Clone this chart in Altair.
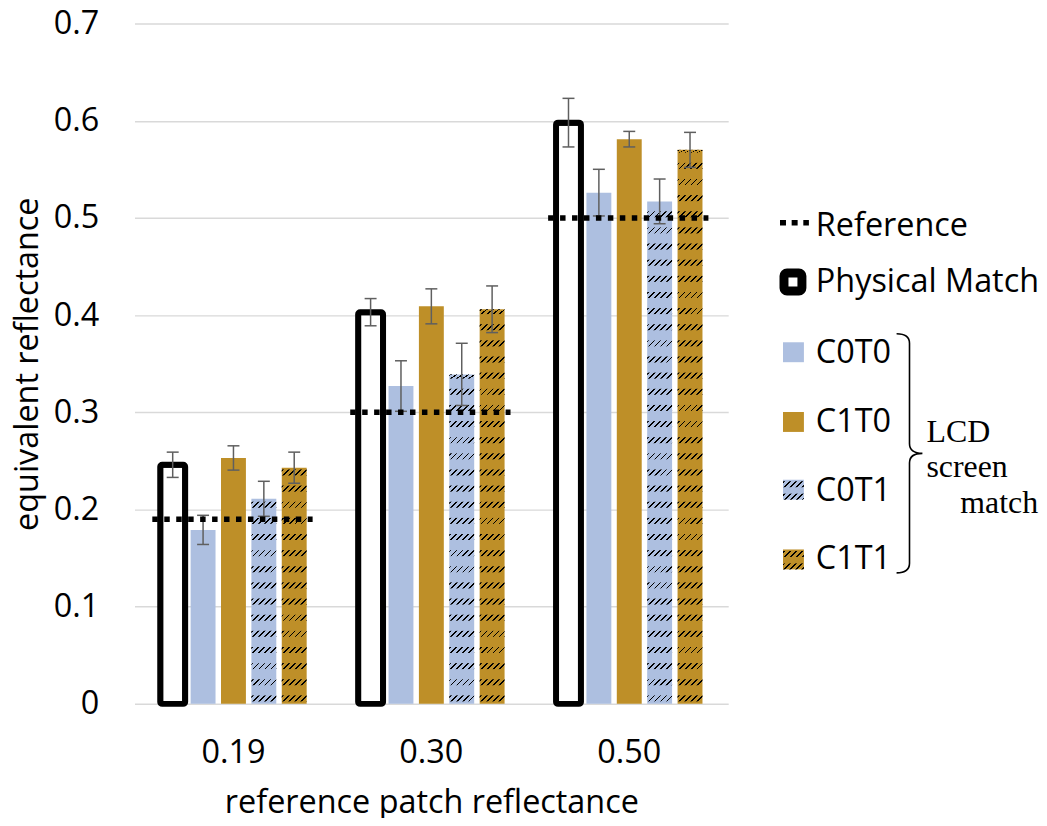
import altair as alt
import pandas as pd

# ---------------- data ----------------
groups = ["0.19", "0.30", "0.50"]
series = ["Physical Match", "C0T0", "C1T0", "C0T1", "C1T1"]
reference = [0.19, 0.30, 0.50]

physical = [0.246, 0.403, 0.598]
physical_err = [0.013, 0.014, 0.025]
c0t0 = [0.179, 0.327, 0.526]
c0t0_err = [0.015, 0.026, 0.024]
c1t0 = [0.253, 0.409, 0.581]
c1t0_err = [0.0125, 0.018, 0.008]
c0t1 = [0.211, 0.339, 0.517]
c0t1_err = [0.018, 0.032, 0.023]
c1t1 = [0.243, 0.406, 0.570]
c1t1_err = [0.016, 0.024, 0.018]

legend_labels = ["Reference", "Physical Match", "C0T0", "C1T0", "C0T1", "C1T1"]
bracket_lines = ["LCD", "screen", "match"]
hatched_series = ["C0T1", "C1T1"]

# ---------------- layout / style ----------------
PLOT_W, PLOT_H = 596, 683
YMAX = 0.7
BLUE = "#ADBFE0"
GOLD = "#BE8F28"
ERR = "#5F5F5F"
FONT = "Open Sans"
FS = 32.5
CLEAR = "rgba(0,0,0,0)"
# hatch style (pixels): rows of short '/' dashes
ROW_PERIOD, ROW_OFF, ROW_H = 16.2, 2.5, 6.0

vals = {"Physical Match": (physical, physical_err), "C0T0": (c0t0, c0t0_err),
        "C1T0": (c1t0, c1t0_err), "C0T1": (c0t1, c0t1_err), "C1T1": (c1t1, c1t1_err)}
rows = []
for gi, g in enumerate(groups):
    for s in series:
        v, e = vals[s]
        rows.append({"group": g, "series": s, "value": v[gi],
                     "lo": v[gi] - e[gi], "hi": v[gi] + e[gi]})
df = pd.DataFrame(rows)
ref_df = pd.DataFrame({"group": groups, "reference": reference})

# band geometry (used only to size hatch patterns)
PI, PO = 0.18, 0.847
step = (PLOT_W / 3) / (5 - PI + 2 * PO)
BAR_W = step * (1 - PI)


def diag_lines(w, h, gid, period=6.0, line=1.8):
    """Black '/' lines on transparent, 45 degrees in screen space for a w x h box."""
    L = w + h
    lam = L / (w * w + h * h)
    stops = [{"offset": 0, "color": CLEAR}]
    pos = 0.6
    while pos < L:
        a = pos / L
        b = min((pos + line) / L, 1.0)
        stops += [{"offset": a, "color": CLEAR}, {"offset": a, "color": "#000000"},
                  {"offset": b, "color": "#000000"}, {"offset": b, "color": CLEAR}]
        pos += period
    stops.append({"offset": 1, "color": CLEAR})
    return {"gradient": "linear", "id": gid, "x1": 0, "y1": 0,
            "x2": lam * w, "y2": lam * h, "stops": stops}


# ---------------- encodings ----------------
x_scale = alt.Scale(domain=groups, paddingInner=0, paddingOuter=0)
x_axis = alt.Axis(labelAngle=0, labelFont=FONT, labelFontSize=FS, labelColor="#000",
                  labelPadding=33, ticks=False, domain=False, grid=False,
                  titleFont=FONT, titleFontSize=FS, titleFontWeight="normal",
                  titleColor="#000", titlePadding=18)
X = alt.X("group:N", scale=x_scale, axis=x_axis, title="reference patch reflectance")
XO = alt.XOffset("series:N", scale=alt.Scale(domain=series, paddingInner=PI, paddingOuter=PO))
y_scale = alt.Scale(domain=[0, YMAX], nice=False, zero=True)
y_axis = alt.Axis(values=[0, 0.1, 0.2, 0.3, 0.4, 0.5, 0.6, 0.7],
                  labelExpr="datum.value == 0 ? '0' : format(datum.value, '.1f')",
                  labelFont=FONT, labelFontSize=FS, labelColor="#000", labelPadding=36,
                  ticks=False, domain=False, grid=True, gridColor="#D9D9D9", gridWidth=1.5,
                  titleFont=FONT, titleFontSize=FS, titleFontWeight="normal",
                  titleColor="#000", titlePadding=9)
YT = "equivalent reflectance"


def Y(field):
    return alt.Y(field, scale=y_scale, axis=y_axis, title=YT)


base = alt.Chart(df)

bars = base.mark_bar().encode(
    x=X, xOffset=XO, y=Y("value:Q"),
    fill=alt.Fill("series:N", scale=alt.Scale(domain=series,
                  range=["#FFFFFF", BLUE, GOLD, BLUE, GOLD]), legend=None),
).transform_filter(alt.datum.series != "Physical Match")

phys = base.mark_bar(fill="#FFFFFF", stroke="#000000", strokeWidth=6,
                     cornerRadius=2).encode(
    x=X, xOffset=XO, y=Y("value:Q")
).transform_filter(alt.datum.series == "Physical Match")

# hatch: rows of diagonal dashes laid over the hatched bars (a pattern, derived
# from each bar's own value through the y scale's units)
u = YMAX / PLOT_H  # data units per pixel
hatch = base.transform_filter(
    alt.FieldOneOfPredicate(field="series", oneOf=hatched_series)
).transform_calculate(
    k="sequence(0, 60)"
).transform_flatten(["k"]).transform_calculate(
    r0=f"({ROW_OFF} + datum.k * {ROW_PERIOD}) * {u}",
).transform_calculate(
    r1=f"min(datum.r0 + {ROW_H} * {u}, datum.value)"
).transform_filter("datum.r0 < datum.value - 1.5 * " + str(u)).mark_bar(
    fill=diag_lines(BAR_W, ROW_H, "hatchrow")
).encode(x=X, xOffset=XO, y=Y("r0:Q"), y2="r1:Q")

err_rule = base.mark_rule(color=ERR, strokeWidth=1.5).encode(
    x=X, xOffset=XO, y=Y("lo:Q"), y2="hi:Q")
cap_shape = "M-1,0L1,0"
cap_lo = base.mark_point(shape=cap_shape, size=144, filled=False, color=ERR,
                         strokeWidth=1.5, opacity=1).encode(x=X, xOffset=XO, y=Y("lo:Q"))
cap_hi = base.mark_point(shape=cap_shape, size=144, filled=False, color=ERR,
                         strokeWidth=1.5, opacity=1).encode(x=X, xOffset=XO, y=Y("hi:Q"))

ref_line = alt.Chart(ref_df).mark_rule(color="#000000", strokeWidth=5.5,
                                       strokeDash=[5.5, 6.5]).encode(
    x=alt.X("group:N", scale=x_scale, axis=x_axis, title="reference patch reflectance",
            bandPosition=0.09),
    x2=alt.X2("group", bandPosition=0.9),
    y=Y("reference:Q"),
)

# ---------------- legend (drawn beside the plot) ----------------
one = pd.DataFrame({"k": [0]})
leg = []
TX = 684
text_y = [213, 270, 341, 410, 479, 548]
for lbl, ty in zip(legend_labels, text_y):
    leg.append(alt.Chart(one).mark_text(text=lbl, align="left", baseline="alphabetic",
                                        font=FONT, fontSize=FS, color="#000").encode(
        x=alt.value(TX), y=alt.value(ty)))

leg.append(alt.Chart(one).mark_rule(color="#000", strokeWidth=5.5, strokeDash=[6, 5.7]).encode(
    x=alt.value(648), x2=alt.value(677), y=alt.value(200)))
leg.append(alt.Chart(one).mark_rect(fill="#FFFFFF", stroke="#000", strokeWidth=9,
                                    cornerRadius=3).encode(
    x=alt.value(652), x2=alt.value(670), y=alt.value(250.5), y2=alt.value(268.5)))
sq = {"C0T0": (320, BLUE, False), "C1T0": (390, GOLD, False),
      "C0T1": (458, BLUE, True), "C1T1": (528, GOLD, True)}
leg_grad = diag_lines(21, 6, "hatchleg")
for s in ["C0T0", "C1T0", "C0T1", "C1T1"]:
    y0, col, hatched = sq[s]
    leg.append(alt.Chart(one).mark_rect(fill=col).encode(
        x=alt.value(651), x2=alt.value(672), y=alt.value(y0), y2=alt.value(y0 + 20)))
    if hatched:
        for r0 in (1.5, 14):
            leg.append(alt.Chart(one).mark_rect(fill=leg_grad).encode(
                x=alt.value(651), x2=alt.value(672),
                y=alt.value(y0 + r0), y2=alt.value(y0 + r0 + 6)))

brace_path = ("M-0.108,-1 Q0,-1 0,-0.92 L0,-0.08 Q0,0 0.108,0 "
              "Q0,0 0,0.08 L0,0.92 Q0,1 -0.108,1")
leg.append(alt.Chart(one).mark_point(shape=brace_path, size=57600, filled=False,
                                     color="#000", strokeWidth=1.6, opacity=1).encode(
    x=alt.value(778), y=alt.value(431.5)))
for txt, (bx, by) in zip(bracket_lines, [(795, 420), (795, 455), (829, 491)]):
    leg.append(alt.Chart(one).mark_text(text=txt, align="left", baseline="alphabetic",
                                        font="Liberation Serif", fontSize=32,
                                        color="#000").encode(
        x=alt.value(bx), y=alt.value(by)))

chart = alt.layer(bars, phys, hatch, err_rule, cap_lo, cap_hi, ref_line, *leg).properties(
    width=PLOT_W, height=PLOT_H,
    autosize=alt.AutoSizeParams(type="none"),
    padding={"left": 127, "top": 14, "right": 312, "bottom": 113},
).configure(background="#FFFFFF").configure_view(stroke=None).configure_axisX(grid=False)

chart.save("out.html", embed_options={"renderer": "svg", "actions": False})
